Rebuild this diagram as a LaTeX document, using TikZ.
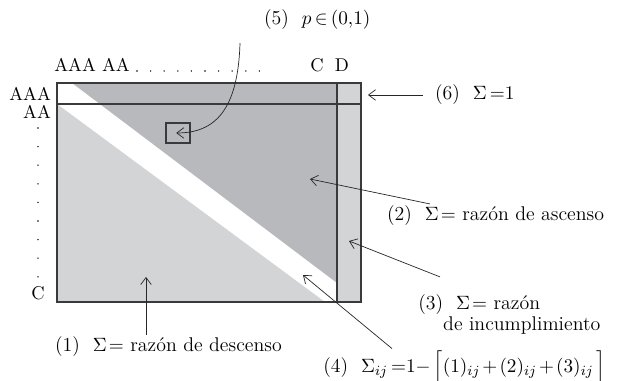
\documentclass[tikz,border=0pt]{standalone}
\usepackage{amsmath}
\usepackage{tikz}
\usetikzlibrary{arrows.meta,positioning}
\definecolor{oscuro}{HTML}{B8B9BD}
\definecolor{claro}{HTML}{D3D4D6}
\definecolor{borde}{HTML}{3A3A3C}

\begin{document}
\begin{tikzpicture}[x=0.02cm, y=-0.02cm, font=\fontsize{10.5}{12.5}\selectfont,
  flecha/.style={-{Straight Barb[length=4pt,width=6pt]}, black!85},
  etiq/.style={inner sep=1pt, anchor=west, font=\fontsize{11.3}{11}\selectfont},
  marco/.style={draw=borde, semithick}]
\useasboundingbox (0,0) rectangle (620,381);
% matriz de transicion
\fill[claro] (57,104) -- (57,302) -- (325,302) -- cycle;
\fill[oscuro] (72,83) -- (337,83) -- (337,283) -- cycle;
\fill[claro] (337,83) rectangle (361,302);
\draw[marco] (57,83) rectangle (361,302);
\draw[marco] (57,104) -- (361,104);
\draw[marco] (337,83) -- (337,302);
\node[marco, minimum width=0.48cm, minimum height=0.4cm, inner sep=0pt] (celda) at (178,133) {};
% calificaciones
\node[anchor=base west, inner sep=0pt] (colA) at (54,72) {AAA AA};
\foreach \i in {0,...,9}
  \fill (137+\i*13.6,71) circle (0.45pt);
\node[anchor=base, inner sep=0pt] (colC) at (317,72) {C};
\node[anchor=base, inner sep=0pt] (colD) at (342,72) {D};
\node[anchor=east, inner sep=1pt] (filaA) at (53,94) {AAA};
\node[anchor=east, inner sep=1pt] (filaB) at (53,112) {AA};
\foreach \i in {0,...,8}
  \fill (38,128+\i*18.6) circle (0.45pt);
\node[inner sep=0pt] (filaC) at (38,293) {C};
% etiquetas
\node[etiq] (etiq5) at (262,20) {(5)\ \ $p\,{\in}\,(0{,}1)$};
\node[etiq] (etiq6) at (433,95) {(6)\ \ $\Sigma\,{=}1$};
\node[etiq] (etiq2) at (385,216) {(2)\ \ $\Sigma\!=$ razón de ascenso};
\node[etiq, align=left, inner sep=0pt] (etiq3) at (418,315) {(3)\ \ $\Sigma\!=$ razón\\\phantom{(3)}de incumplimiento};
\node[etiq] (etiq1) at (53,347) {(1)\ \ $\Sigma\!=$ razón de descenso};
\node[etiq, inner sep=0pt] (etiq4) at (323,368) {(4)\ \ $\Sigma_{ij}\,{=}1{-}\,\Bigl[(1)_{ij}\mkern2mu{+}\mkern2mu(2)_{ij}\mkern2mu{+}\mkern2mu(3)_{ij}\,\Bigr]$};
\coordinate (p1) at (146,277);
\coordinate (p2) at (310,179);
\coordinate (p3) at (349,241);
\coordinate (p4) at (303,275);
\coordinate (p6) at (368,95);
% flechas
\draw[flecha] (etiq1.north -| p1) -- (p1);
\draw[flecha] ([xshift=0.9cm]etiq2.north west) -- (p2);
\draw[flecha] ([xshift=0.44cm,yshift=0.34cm]etiq3.north west) -- (p3);
\draw[flecha] ([xshift=1.38cm,yshift=1pt]etiq4.north west) -- (p4);
\draw[flecha] ([xshift=-0.2cm]etiq6.west) -- (p6);
\draw[flecha] ([xshift=-0.44cm,yshift=-0.22cm]etiq5.south west) .. controls (238,110) and (215,133) .. ([xshift=-1pt]celda.center);
\end{tikzpicture}
\end{document}
